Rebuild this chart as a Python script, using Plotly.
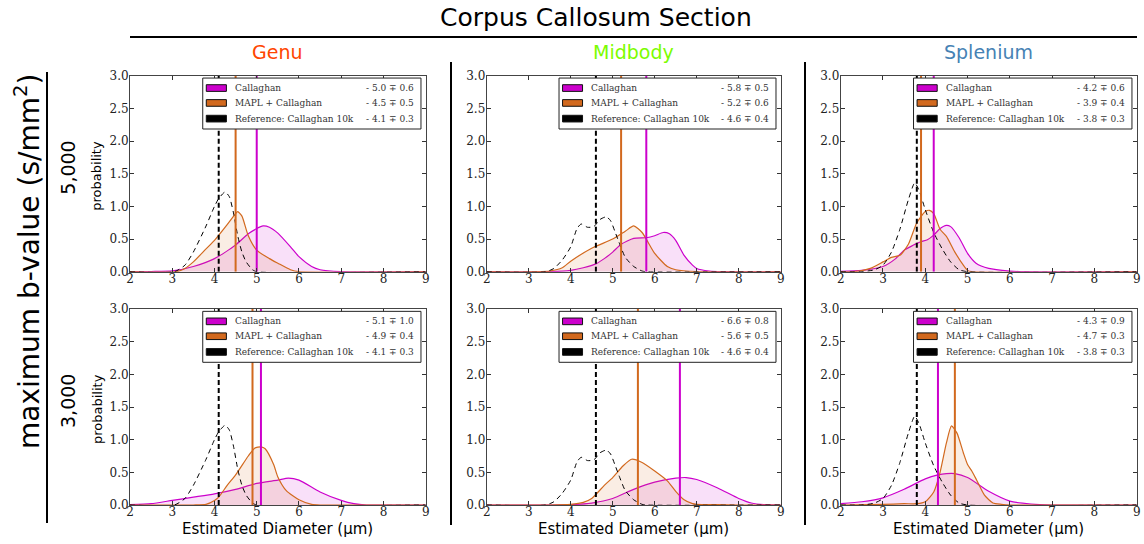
import plotly.graph_objects as go

# ---- data: estimated axon diameter distributions ----
sections = ["Genu", "Midbody", "Splenium"]
section_colors = ["#ff4500", "#7cfc00", "#4682b4"]
bvalues = ["5,000", "3,000"]

# Callaghan, b=5000
cal5_genu_x = [2.0, 2.5, 3.0, 3.5, 4.0, 4.5, 4.8, 5.0, 5.15, 5.3, 5.5, 5.8, 6.0, 6.3, 6.5, 7.0, 9.0]
cal5_genu_y = [0, 0.003, 0.012, 0.08, 0.2, 0.41, 0.58, 0.66, 0.70, 0.68, 0.59, 0.38, 0.23, 0.08, 0.03, 0.0, 0]
cal5_mid_x = [2.0, 3.5, 4.0, 4.3, 4.6, 4.8, 5.0, 5.2, 5.5, 5.8, 6.0, 6.2, 6.35, 6.5, 6.7, 6.9, 7.0, 7.3, 7.6, 9.0]
cal5_mid_y = [0, 0, 0.02, 0.06, 0.12, 0.2, 0.3, 0.42, 0.51, 0.52, 0.55, 0.60, 0.58, 0.48, 0.25, 0.1, 0.05, 0.01, 0, 0]
cal5_spl_x = [2.0, 2.5, 3.0, 3.3, 3.5, 3.7, 3.9, 4.05, 4.2, 4.35, 4.5, 4.6, 4.8, 5.0, 5.2, 5.5, 6.0, 6.3, 9.0]
cal5_spl_y = [0.005, 0.02, 0.08, 0.2, 0.33, 0.4, 0.46, 0.49, 0.56, 0.66, 0.71, 0.69, 0.52, 0.28, 0.13, 0.05, 0.01, 0, 0]

# MAPL + Callaghan, b=5000
mapl5_genu_x = [2.0, 3.1, 3.3, 3.5, 3.8, 4.0, 4.3, 4.5, 4.55, 4.65, 4.8, 5.0, 5.3, 5.5, 5.8, 6.0, 9.0]
mapl5_genu_y = [0, 0, 0.05, 0.15, 0.35, 0.48, 0.72, 0.89, 0.92, 0.85, 0.55, 0.33, 0.2, 0.13, 0.03, 0.0, 0]
mapl5_mid_x = [2.0, 3.2, 3.5, 3.8, 4.0, 4.5, 5.0, 5.3, 5.5, 5.7, 6.0, 6.3, 6.5, 7.0, 9.0]
mapl5_mid_y = [0, 0, 0.01, 0.06, 0.16, 0.36, 0.5, 0.62, 0.70, 0.6, 0.28, 0.08, 0.03, 0, 0]
mapl5_spl_x = [2.0, 2.3, 2.7, 3.0, 3.2, 3.4, 3.6, 3.8, 4.0, 4.1, 4.2, 4.35, 4.5, 4.7, 4.9, 5.0, 5.1, 9.0]
mapl5_spl_y = [0, 0, 0.05, 0.15, 0.22, 0.25, 0.42, 0.75, 0.92, 0.94, 0.89, 0.65, 0.54, 0.3, 0.1, 0.02, 0, 0]

# Callaghan, b=3000
cal3_genu_x = [2.0, 2.5, 3.0, 3.5, 4.0, 4.5, 5.0, 5.5, 5.75, 6.0, 6.5, 7.0, 7.3, 7.6, 9.0]
cal3_genu_y = [0.005, 0.02, 0.07, 0.12, 0.17, 0.24, 0.33, 0.38, 0.41, 0.38, 0.2, 0.07, 0.02, 0, 0]
cal3_mid_x = [2.0, 3.5, 4.0, 4.5, 5.0, 5.5, 6.0, 6.5, 6.75, 7.0, 7.5, 8.0, 8.3, 8.6, 9.0]
cal3_mid_y = [0, 0, 0.005, 0.03, 0.1, 0.24, 0.35, 0.41, 0.42, 0.39, 0.26, 0.1, 0.03, 0.005, 0]
cal3_spl_x = [2.0, 2.5, 3.0, 3.5, 4.0, 4.3, 4.5, 4.7, 5.0, 5.5, 6.0, 6.5, 7.0, 9.0]
cal3_spl_y = [0.02, 0.05, 0.11, 0.24, 0.4, 0.46, 0.48, 0.48, 0.42, 0.21, 0.06, 0.015, 0, 0]

# MAPL + Callaghan, b=3000
mapl3_genu_x = [2.0, 3.5, 3.8, 4.0, 4.1, 4.3, 4.5, 4.8, 4.95, 5.1, 5.2, 5.4, 5.5, 5.7, 6.0, 6.3, 6.5, 9.0]
mapl3_genu_y = [0, 0, 0.01, 0.07, 0.12, 0.3, 0.46, 0.75, 0.87, 0.89, 0.86, 0.62, 0.43, 0.22, 0.08, 0.01, 0, 0]
mapl3_mid_x = [2.0, 3.5, 4.0, 4.3, 4.5, 4.8, 5.0, 5.25, 5.45, 5.7, 6.0, 6.3, 6.5, 6.7, 6.9, 7.0, 7.5, 8.0, 9.0]
mapl3_mid_y = [0, 0, 0.01, 0.04, 0.1, 0.3, 0.42, 0.6, 0.70, 0.65, 0.52, 0.37, 0.21, 0.08, 0.02, 0.01, 0.005, 0, 0]
mapl3_spl_x = [2.0, 3.0, 3.5, 3.8, 4.0, 4.2, 4.35, 4.5, 4.62, 4.75, 4.9, 5.0, 5.1, 5.2, 5.4, 5.6, 5.8, 6.0, 9.0]
mapl3_spl_y = [0, 0.01, 0.02, 0.02, 0.05, 0.2, 0.5, 0.95, 1.21, 1.1, 0.8, 0.62, 0.52, 0.4, 0.15, 0.03, 0.01, 0, 0]

# Reference: Callaghan 10k (same in both rows)
ref_genu_x = [2.0, 3.05, 3.3, 3.5, 3.8, 4.0, 4.1, 4.25, 4.35, 4.45, 4.55, 4.65, 4.75, 4.9, 5.0, 9.0]
ref_genu_y = [0, 0, 0.1, 0.3, 0.7, 1.0, 1.12, 1.22, 1.15, 0.9, 0.55, 0.3, 0.15, 0.03, 0, 0]
ref_mid_x = [2.0, 3.4, 3.6, 3.8, 4.0, 4.15, 4.25, 4.4, 4.55, 4.7, 4.85, 4.95, 5.05, 5.15, 5.3, 5.5, 5.7, 5.8, 9.0]
ref_mid_y = [0, 0, 0.05, 0.18, 0.38, 0.66, 0.73, 0.68, 0.69, 0.8, 0.84, 0.78, 0.62, 0.45, 0.22, 0.08, 0.01, 0, 0]
ref_spl_x = [2.0, 2.5, 2.8, 3.0, 3.2, 3.4, 3.6, 3.75, 3.85, 4.0, 4.2, 4.4, 4.6, 4.8, 5.0, 9.0]
ref_spl_y = [0, 0, 0.03, 0.1, 0.3, 0.65, 1.1, 1.36, 1.25, 0.95, 0.6, 0.35, 0.15, 0.03, 0, 0]

# means and std per row (5000, 3000) and section
cal_mean = [[5.0, 5.8, 4.2], [5.1, 6.6, 4.3]]
cal_std = [[0.6, 0.5, 0.6], [1.0, 0.8, 0.9]]
mapl_mean = [[4.5, 5.2, 3.9], [4.9, 5.6, 4.7]]
mapl_std = [[0.5, 0.6, 0.4], [0.4, 0.5, 0.3]]
ref_mean = [4.1, 4.6, 3.8]
ref_std = [0.3, 0.4, 0.3]

cal_curves = [[(cal5_genu_x, cal5_genu_y), (cal5_mid_x, cal5_mid_y), (cal5_spl_x, cal5_spl_y)],
              [(cal3_genu_x, cal3_genu_y), (cal3_mid_x, cal3_mid_y), (cal3_spl_x, cal3_spl_y)]]
mapl_curves = [[(mapl5_genu_x, mapl5_genu_y), (mapl5_mid_x, mapl5_mid_y), (mapl5_spl_x, mapl5_spl_y)],
               [(mapl3_genu_x, mapl3_genu_y), (mapl3_mid_x, mapl3_mid_y), (mapl3_spl_x, mapl3_spl_y)]]
ref_curves = [(ref_genu_x, ref_genu_y), (ref_mid_x, ref_mid_y), (ref_spl_x, ref_spl_y)]

MAG = "#cc00cc"
ORA = "#d2691e"
W, H = 1144, 544

col_x = [(130, 425.7), (486.7, 780.7), (840.7, 1136.7)]
row_y = [(75.7, 271.7), (309, 505)]

fig = go.Figure()
shapes = []
annots = []
serif = "DejaVu Serif"
sans = "DejaVu Sans"
tickfont = dict(family=serif, size=12, color="#222")
legfont = dict(family=serif, size=9, color="#333")


def label(x, y, text, size, color="black", angle=0, family=sans):
    # text centred on a pixel position of the page
    return dict(xref="paper", yref="paper", x=x / W, y=1 - y / H, text=text, showarrow=False,
                textangle=angle, xanchor="center", yanchor="middle",
                font=dict(family=family, size=size, color=color))


for r in range(2):
    for c in range(3):
        k = r * 3 + c + 1
        xa = "x" if k == 1 else f"x{k}"
        ya = "y" if k == 1 else f"y{k}"
        cx, cy = cal_curves[r][c]
        mx, my = mapl_curves[r][c]
        rx, ry = ref_curves[c]
        line_sp = dict(shape="spline", smoothing=0.6)
        fig.add_trace(go.Scatter(x=cx, y=cy, xaxis=xa, yaxis=ya, mode="lines", fill="tozeroy",
                                 fillcolor="rgba(204,0,204,0.12)", line=dict(color=MAG, width=1.2, **line_sp)))
        fig.add_trace(go.Scatter(x=mx, y=my, xaxis=xa, yaxis=ya, mode="lines", fill="tozeroy",
                                 fillcolor="rgba(210,105,30,0.12)", line=dict(color=ORA, width=1.2, **line_sp)))
        fig.add_trace(go.Scatter(x=rx, y=ry, xaxis=xa, yaxis=ya, mode="lines",
                                 line=dict(color="black", width=1, dash="5px,4px", **line_sp)))
        # mean lines
        fig.add_trace(go.Scatter(x=[ref_mean[c]] * 2, y=[0, 3], xaxis=xa, yaxis=ya, mode="lines",
                                 line=dict(color="black", width=2, dash="5px,3px")))
        fig.add_trace(go.Scatter(x=[mapl_mean[r][c]] * 2, y=[0, 3], xaxis=xa, yaxis=ya, mode="lines",
                                 line=dict(color=ORA, width=2)))
        fig.add_trace(go.Scatter(x=[cal_mean[r][c]] * 2, y=[0, 3], xaxis=xa, yaxis=ya, mode="lines",
                                 line=dict(color=MAG, width=2)))

        x0, x1 = col_x[c]
        y0, y1 = row_y[r]
        ax = dict(domain=[x0 / W, x1 / W], range=[2, 9], tickvals=list(range(2, 10)),
                  ticks="inside", ticklen=4, tickcolor="#333", showline=True, linecolor="#444",
                  linewidth=1, mirror="ticks", showgrid=False, zeroline=False, tickfont=tickfont,
                  anchor=ya, automargin=False, ticklabelstandoff=-4)
        ay = dict(domain=[1 - y1 / H, 1 - y0 / H], range=[0, 3], tickvals=[0, 0.5, 1, 1.5, 2, 2.5, 3],
                  tickformat=".1f", ticks="inside", ticklen=4, tickcolor="#333", showline=True,
                  linecolor="#444", linewidth=1, mirror="ticks", showgrid=False, zeroline=False,
                  tickfont=tickfont, anchor=xa, automargin=False, ticklabelstandoff=-2)
        fig.update_layout(**{("xaxis" if k == 1 else f"xaxis{k}"): ax,
                             ("yaxis" if k == 1 else f"yaxis{k}"): ay})

        # legend box
        xd, yd = f"{xa} domain", f"{ya} domain"
        shapes.append(dict(type="rect", xref=xd, yref=yd, x0=0.246, x1=0.984, y0=0.728, y1=0.988,
                           fillcolor="white", line=dict(color="#222", width=1), layer="above"))
        entries = [("Callaghan", MAG, cal_mean[r][c], cal_std[r][c]),
                   ("MAPL + Callaghan", ORA, mapl_mean[r][c], mapl_std[r][c]),
                   ("Reference: Callaghan 10k", "black", ref_mean[c], ref_std[c])]
        for i, (name, col, m, s) in enumerate(entries):
            yc = [0.937, 0.861, 0.781][i]
            shapes.append(dict(type="rect", xref=xd, yref=yd, x0=0.258, x1=0.326, y0=yc - 0.017,
                               y1=yc + 0.017, fillcolor=col, line=dict(color="#111", width=1),
                               layer="above"))
            annots.append(dict(xref=xd, yref=yd, x=0.348, y=yc, text=name, showarrow=False,
                               xanchor="left", yanchor="middle", font=legfont))
            annots.append(dict(xref=xd, yref=yd, x=0.968, y=yc,
                               text=f"- {m:.1f} \u2213 {s:.1f}", showarrow=False,
                               xanchor="right", yanchor="middle", font=legfont))

# titles and labels
annots.append(label(596, 17, "Corpus Callosum Section", 25))
for c, name in enumerate(sections):
    cxm = (col_x[c][0] + col_x[c][1]) / 2
    annots.append(label(cxm, 52, name, 19, section_colors[c]))
    annots.append(label(cxm, 529, "Estimated Diameter (\u03bcm)", 15))
for r, bv in enumerate(bvalues):
    cym = (row_y[r][0] + row_y[r][1]) / 2
    annots.append(label(68, cym - 6, bv, 19, angle=-90))
    annots.append(label(97, cym + 2, "probability", 13, angle=-90))
annots.append(label(27, 262, "maximum b-value (s/mm<sup>2</sup>)", 28, angle=-90))

# separator lines
shapes.append(dict(type="line", xref="paper", yref="paper", x0=130 / W, x1=1137 / W,
                   y0=1 - 37 / H, y1=1 - 37 / H, line=dict(color="black", width=2)))
shapes.append(dict(type="line", xref="paper", yref="paper", x0=47 / W, x1=47 / W,
                   y0=1 - 72 / H, y1=1 - 523 / H, line=dict(color="black", width=2)))
for sx in (451, 805):
    shapes.append(dict(type="line", xref="paper", yref="paper", x0=sx / W, x1=sx / W,
                       y0=1 - 62 / H, y1=1 - 525 / H, line=dict(color="black", width=2)))

fig.update_layout(width=W, height=H, autosize=False, margin=dict(l=0, r=0, t=0, b=0, pad=0),
                  paper_bgcolor="white", plot_bgcolor="white", showlegend=False,
                  shapes=shapes, annotations=annots)
fig.write_html("out.html", config={"displayModeBar": False},
               post_script="document.body.style.margin='0';document.body.style.overflow='hidden';")
